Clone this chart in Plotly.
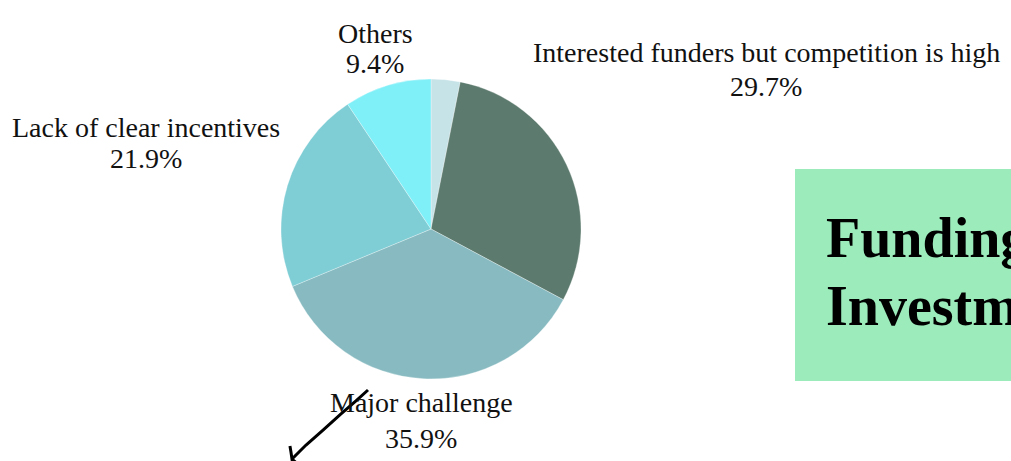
import plotly.graph_objects as go

# pie data (counts out of 64 responses)
labels = ["Not sure", "Interested funders but competition is high", "Major challenge",
          "Lack of clear incentives", "Others"]
counts = [2, 19, 23, 14, 6]
colors = ["#C6E3E8", "#5C7A6D", "#88BBC1", "#7FCDD5", "#7FEFF8"]

title_lines = ["Funding &", "Investment"]

W, H = 1011, 461
FONT = "Liberation Serif"


def px(x, y):
    # screen pixel -> paper coords
    return x / W, 1 - y / H


# label placement: centre x, baseline of name line, baseline of percent line
label_pos = {
    "Interested funders but competition is high": (766, 62, 97),
    "Major challenge": (421, 412, 448),
    "Lack of clear incentives": (146, 137, 168),
    "Others": (375, 43, 73),
}

# hand-drawn arrow, pixel points
arrow_px = [(368, 390), (356, 401), (341, 414), (323, 430), (306, 445), (292, 459),
            (291, 452), (290, 446), (291, 452), (292, 459), (300, 466)]

x0, y1 = px(281, 79)
x1, y0 = px(581, 379)
fig = go.Figure(go.Pie(
    labels=labels,
    values=counts,
    sort=False,
    direction="clockwise",
    rotation=0,
    marker=dict(colors=colors, line=dict(width=0.5, color="rgba(255,255,255,0.6)")),
    textinfo="none",
    domain=dict(x=[x0, x1], y=[y0, y1]),
    showlegend=False,
    hoverinfo="label+percent",
))

total = sum(counts)
for lab, c in zip(labels, counts):
    if lab not in label_pos:
        continue
    cx, b1, b2 = label_pos[lab]
    for txt, base in ((lab, b1), ("%.1f%%" % (100.0 * c / total), b2)):
        ax, ay = px(cx, base - 10)
        fig.add_annotation(text=txt, xref="paper", yref="paper", x=ax, y=ay,
                           xanchor="center", yanchor="middle", showarrow=False,
                           font=dict(family=FONT, size=28, color="#111111"))

bx0, by1 = px(795, 169)
bx1, by0 = px(1060, 381)
fig.add_shape(type="rect", xref="paper", yref="paper",
              x0=bx0, x1=bx1, y0=by0, y1=by1,
              fillcolor="#9BEBBB", line=dict(width=0), layer="below")

for i, line in enumerate(title_lines):
    ax, ay = px(824, 238 + i * 68)
    fig.add_annotation(text="<b>%s</b>" % line, xref="paper", yref="paper",
                       x=ax, y=ay, xanchor="left", yanchor="middle",
                       showarrow=False, font=dict(family=FONT, size=56, color="#000000"))

path = "M " + " L ".join("%.4f,%.4f" % px(x, y) for x, y in arrow_px)
fig.add_shape(type="path", xref="paper", yref="paper", path=path,
              line=dict(color="#000000", width=3))

fig.update_layout(width=W, height=H, margin=dict(l=0, r=0, t=0, b=0),
                  paper_bgcolor="white", plot_bgcolor="white")

# figure fills the window exactly: drop the page margin and scrollbars
fig.write_html("out.html", config={"displayModeBar": False},
               post_script="document.documentElement.style.overflow='hidden';"
                           "document.body.style.overflow='hidden';"
                           "document.body.style.margin='0';")
